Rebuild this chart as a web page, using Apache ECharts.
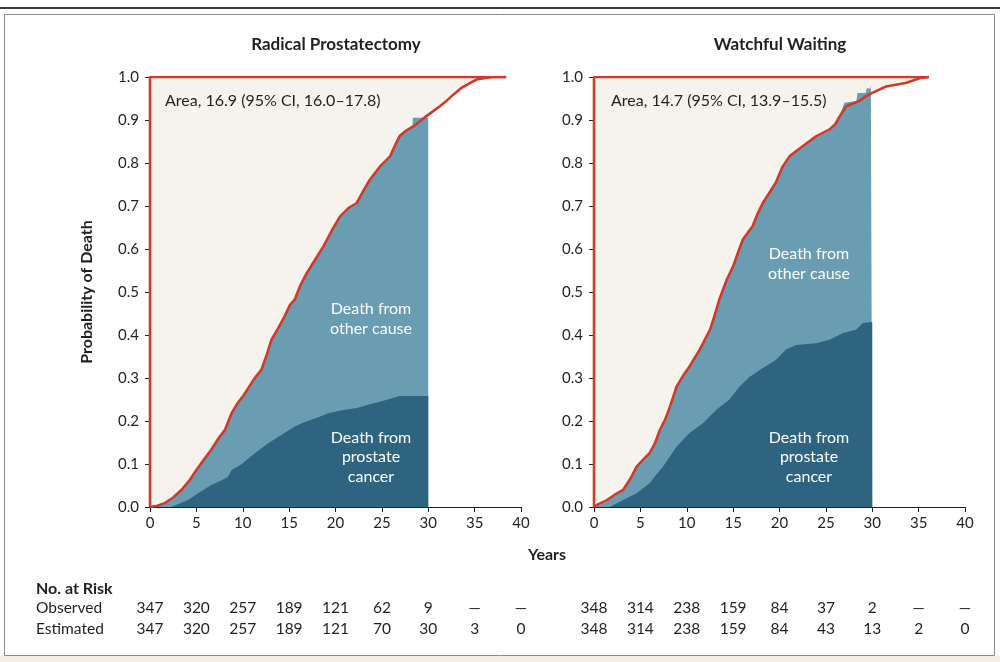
<!DOCTYPE html>
<html>
<head>
<meta charset="utf-8">
<script src="https://cdn.jsdelivr.net/npm/echarts@6/dist/echarts.min.js"></script>
<style>
html,body{margin:0;padding:0;background:#fff;}
#c{width:1000px;height:662px;}
</style>
</head>
<body>
<div id="c"></div>
<script>
// ---------------- DATA ----------------
const panelTitles = ['Radical Prostatectomy', 'Watchful Waiting'];
const areaLabels = ['Area, 16.9 (95% CI, 16.0\u201317.8)', 'Area, 14.7 (95% CI, 13.9\u201315.5)'];
const yTicks = [0, 0.1, 0.2, 0.3, 0.4, 0.5, 0.6, 0.7, 0.8, 0.9, 1.0];
const riskYears = [0, 5, 10, 15, 20, 25, 30, 35, 40];

// Radical prostatectomy: cumulative probability of death from any cause (red)
const rpAllDeath = [[0,0],[0.8,0.003],[1.6,0.009],[2.5,0.022],[3.4,0.04],[4.2,0.06],[5.0,0.086],[5.8,0.11],[6.6,0.133],[7.4,0.16],[8.1,0.18],[8.8,0.218],[9.4,0.24],[10.1,0.26],[10.7,0.28],[11.3,0.30],[12.0,0.319],[12.6,0.355],[13.1,0.389],[13.8,0.415],[14.5,0.443],[15.1,0.47],[15.6,0.482],[16.2,0.515],[16.9,0.544],[17.8,0.575],[18.7,0.606],[19.6,0.643],[20.5,0.676],[21.4,0.695],[22.3,0.707],[23.0,0.735],[23.7,0.761],[24.3,0.778],[24.8,0.792],[25.4,0.805],[25.9,0.816],[26.4,0.84],[26.9,0.862],[27.6,0.875],[28.4,0.885],[29.1,0.897],[29.8,0.909],[30.5,0.92],[31.25,0.932],[32.0,0.945],[32.7,0.959],[33.6,0.975],[34.5,0.986],[35.2,0.994],[36.0,0.997],[37.0,1.0],[38.4,1.0]];
// cumulative death, stacked (prostate cancer + other cause), estimated to 30 yr
const rpStackTop = [[0,0],[0.8,0.002],[1.6,0.007],[2.5,0.019],[3.4,0.037],[4.2,0.057],[5.0,0.083],[5.8,0.107],[6.6,0.13],[7.4,0.157],[8.1,0.177],[8.8,0.215],[9.4,0.237],[10.1,0.257],[10.7,0.277],[11.3,0.297],[12.0,0.316],[12.6,0.352],[13.1,0.386],[13.8,0.412],[14.5,0.44],[15.1,0.467],[15.6,0.479],[16.2,0.512],[16.9,0.541],[17.8,0.572],[18.7,0.603],[19.6,0.64],[20.5,0.673],[21.4,0.692],[22.3,0.704],[23.0,0.732],[23.7,0.758],[24.3,0.775],[24.8,0.789],[25.4,0.802],[25.9,0.813],[26.4,0.837],[26.9,0.866],[27.6,0.878],[28.3,0.888],[28.35,0.905],[30,0.905]];
// cumulative death from prostate cancer
const rpProstate = [[0,0],[2.3,0],[3.2,0.008],[4.1,0.016],[5.2,0.032],[6.6,0.051],[7.5,0.06],[8.4,0.07],[8.8,0.086],[9.9,0.10],[11.3,0.125],[12.75,0.148],[13.6,0.16],[14.5,0.172],[15.6,0.187],[16.5,0.196],[17.4,0.203],[18.3,0.21],[19.2,0.218],[21.0,0.226],[22.3,0.23],[23.5,0.238],[24.8,0.245],[25.8,0.251],[26.9,0.258],[30,0.258]];

// Watchful waiting
const wwAllDeath = [[0,0],[0.3,0.005],[1.4,0.016],[2.2,0.028],[3.15,0.04],[3.9,0.065],[4.6,0.094],[5.3,0.11],[6.0,0.125],[6.6,0.15],[7.1,0.179],[7.7,0.205],[8.2,0.234],[8.9,0.28],[9.6,0.305],[10.3,0.327],[11.4,0.366],[12.5,0.412],[13.0,0.445],[13.5,0.482],[14.3,0.528],[15.0,0.56],[15.5,0.59],[16.05,0.622],[17.1,0.653],[17.6,0.68],[18.2,0.707],[19.6,0.754],[20.3,0.79],[21.1,0.816],[22.5,0.839],[23.95,0.862],[25.4,0.878],[26.0,0.89],[26.5,0.909],[27.2,0.932],[28.6,0.944],[29.3,0.955],[30.0,0.963],[31.5,0.978],[33.6,0.986],[35.1,0.997],[36.1,1.0]];
const wwStackTop = [[0,0],[0.3,0.003],[1.4,0.013],[2.2,0.025],[3.15,0.037],[3.9,0.062],[4.6,0.091],[5.3,0.107],[6.0,0.122],[6.6,0.147],[7.1,0.176],[7.7,0.202],[8.2,0.231],[8.9,0.277],[9.6,0.302],[10.3,0.324],[11.4,0.363],[12.5,0.409],[13.0,0.442],[13.5,0.479],[14.3,0.525],[15.0,0.557],[15.5,0.587],[16.05,0.619],[17.1,0.65],[17.6,0.677],[18.2,0.704],[19.6,0.751],[20.3,0.787],[21.1,0.813],[22.5,0.836],[23.95,0.859],[25.4,0.875],[26.0,0.887],[26.5,0.91],[27.0,0.94],[28.3,0.944],[28.4,0.963],[29.3,0.963],[29.4,0.973],[29.8,0.973],[29.85,0.983],[30,0.983]];
const wwProstate = [[0,0],[1.7,0],[3.15,0.016],[4.6,0.032],[6.0,0.055],[6.7,0.075],[7.45,0.094],[8.2,0.118],[8.9,0.14],[10.3,0.172],[11.75,0.195],[13.2,0.226],[14.6,0.25],[15.7,0.28],[16.8,0.303],[18.2,0.323],[19.6,0.342],[20.7,0.366],[21.8,0.377],[23.95,0.381],[25.4,0.389],[26.8,0.404],[28.25,0.412],[29.0,0.428],[30,0.43]];

// Number at risk
const rpObserved  = ['347','320','257','189','121','62','9','\u2014','\u2014'];
const rpEstimated = ['347','320','257','189','121','70','30','3','0'];
const wwObserved  = ['348','314','238','159','84','37','2','\u2014','\u2014'];
const wwEstimated = ['348','314','238','159','84','43','13','2','0'];

// ---------------- STYLE ----------------
const FONT = 'Lato, "Open Sans", sans-serif';
const C_RED = '#cf3a2a', C_BEIGE = '#f6f2ec', C_LIGHT = '#6a9cb2', C_DARK = '#2e6480', C_TXT = '#231f20';

const chart = echarts.init(document.getElementById('c'), null, {renderer: 'canvas'});

function axesFor(i, left) {
  return {
    grid: {left: left, top: 77, width: 371, height: 430},
    x: {
      type: 'value', gridIndex: i, min: 0, max: 40, interval: 5,
      axisLine: {show: true, lineStyle: {color: C_TXT, width: 1}},
      axisTick: {show: true, length: 5, lineStyle: {color: C_TXT}},
      axisLabel: {color: C_TXT, fontFamily: FONT, fontSize: 15, margin: 9},
      splitLine: {show: false}
    },
    y: {
      type: 'value', gridIndex: i, min: 0, max: 1, interval: 0.1,
      axisLine: {show: true, lineStyle: {color: C_TXT, width: 1}},
      axisTick: {show: true, length: 5, lineStyle: {color: C_TXT}},
      axisLabel: {color: C_TXT, fontFamily: FONT, fontSize: 15, margin: 11,
        formatter: v => v.toFixed(1)},
      splitLine: {show: false},
      name: i === 0 ? 'Probability of Death' : '',
      nameLocation: 'middle', nameGap: 55, nameRotate: 90,
      nameTextStyle: {color: C_TXT, fontFamily: FONT, fontSize: 16, fontWeight: 'bold'}
    }
  };
}

function panelSeries(i, allDeath, stackTop, prostate) {
  const endT = allDeath[allDeath.length - 1][0];
  const base = {type: 'line', xAxisIndex: i, yAxisIndex: i, showSymbol: false, symbol: 'none', silent: true, animation: false};
  return [
    Object.assign({}, base, {data: [[0, 1], [endT, 1]], lineStyle: {width: 0}, areaStyle: {color: C_BEIGE, opacity: 1}}),
    Object.assign({}, base, {data: allDeath, lineStyle: {width: 0}, areaStyle: {color: '#ffffff', opacity: 1}}),
    Object.assign({}, base, {data: stackTop, lineStyle: {width: 0}, areaStyle: {color: C_LIGHT, opacity: 1}}),
    Object.assign({}, base, {data: prostate, lineStyle: {width: 0}, areaStyle: {color: C_DARK, opacity: 1}}),
    Object.assign({}, base, {data: allDeath, lineStyle: {color: C_RED, width: 2.6}}),
    Object.assign({}, base, {data: [[0, 0], [0, 1], [endT, 1]], lineStyle: {color: C_RED, width: 2.6}})
  ];
}

const a0 = axesFor(0, 150), a1 = axesFor(1, 594);

const option = {
  backgroundColor: '#ffffff',
  animation: false,
  textStyle: {fontFamily: FONT},
  grid: [a0.grid, a1.grid],
  xAxis: [a0.x, a1.x],
  yAxis: [a0.y, a1.y],
  series: [].concat(
    panelSeries(0, rpAllDeath, rpStackTop, rpProstate),
    panelSeries(1, wwAllDeath, wwStackTop, wwProstate)
  )
};
chart.setOption(option);

// ---------- graphic overlay (texts, table, frame) ----------
const g = [];
// frame
g.push({type: 'line', z: 100, shape: {x1: 0, y1: 8, x2: 1000, y2: 8}, style: {stroke: '#3a3a3a', lineWidth: 2}});
g.push({type: 'rect', z: 100, shape: {x: 4.5, y: 14.5, width: 990, height: 641}, style: {fill: null, stroke: '#8a8a8a', lineWidth: 1}});
g.push({type: 'rect', z: 100, shape: {x: 0, y: 656, width: 1000, height: 6}, style: {fill: '#f3efe7', stroke: null}});

function txt(x, y, s, opt) {
  g.push({type: 'text', z: 100, x: x, y: y, style: Object.assign({text: s, fill: C_TXT, font: '15.5px ' + FONT, textAlign: 'left', textVerticalAlign: 'middle'}, opt || {})});
}
// panel titles
txt(336, 45, panelTitles[0], {font: 'bold 17px ' + FONT, textAlign: 'center'});
txt(780, 45, panelTitles[1], {font: 'bold 17px ' + FONT, textAlign: 'center'});
// area annotations
txt(165, 101, areaLabels[0], {font: '16px ' + FONT});
txt(611, 101, areaLabels[1], {font: '16px ' + FONT});
// in-plot labels
const inLbl = {fill: '#ffffff', font: '16px ' + FONT, textAlign: 'center', lineHeight: 19.5};
txt(371, 319, 'Death from\nother cause', inLbl);
txt(809, 264, 'Death from\nother cause', inLbl);
txt(371, 457, 'Death from\nprostate\ncancer', inLbl);
txt(809, 457, 'Death from\nprostate\ncancer', inLbl);
// axis title
txt(547, 555, 'Years', {font: 'bold 16px ' + FONT, textAlign: 'center'});

// Number at risk table
txt(36, 589, 'No. at Risk', {font: 'bold 16px ' + FONT});
txt(36, 608, 'Observed');
txt(36, 629, 'Estimated');
const rows = [[0, rpObserved, 608], [0, rpEstimated, 629], [1, wwObserved, 608], [1, wwEstimated, 629]];
rows.forEach(([ax, vals, y]) => {
  vals.forEach((v, k) => {
    const px = chart.convertToPixel({xAxisIndex: ax}, riskYears[k]);
    txt(px, y, v, {textAlign: 'center'});
  });
});

chart.setOption({graphic: g});
</script>
</body>
</html>
